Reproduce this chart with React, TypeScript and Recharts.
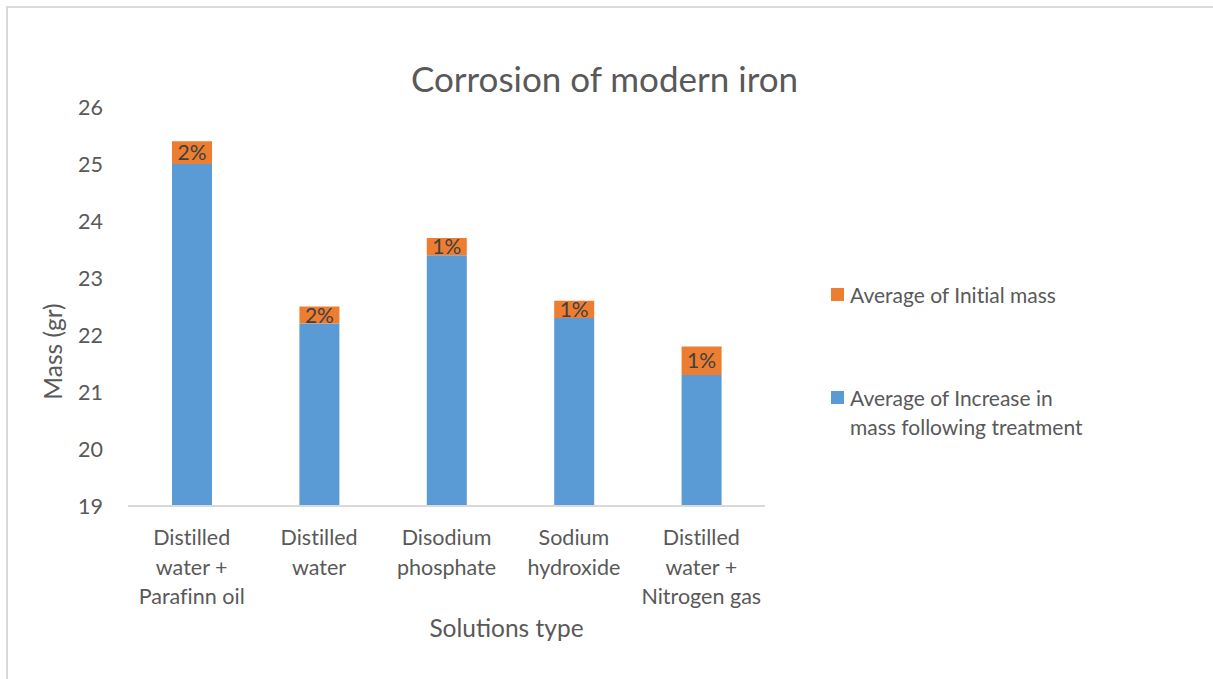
import { Bar, BarChart, LabelList, Legend, XAxis, YAxis } from "recharts";

const categories = [
  "Distilled\nwater +\nParafinn oil",
  "Distilled\nwater",
  "Disodium\nphosphate",
  "Sodium\nhydroxide",
  "Distilled\nwater +\nNitrogen gas",
];
const increaseMass = [25.0, 22.2, 23.4, 22.3, 21.3];
const initialMass = [0.4, 0.3, 0.3, 0.3, 0.5];
const percentLabels = ["2%", "2%", "1%", "1%", "1%"];
const yTicks = [19, 20, 21, 22, 23, 24, 25, 26];

const data = categories.map((name, i) => ({
  name,
  increase: increaseMass[i],
  initial: initialMass[i],
  pct: percentLabels[i],
}));

const FONT = "Lato, 'Open Sans', sans-serif";
const GRAY = "#595959";
const noLig = { fontVariantLigatures: "none" as const };

const CategoryTick = (props: any) => {
  const { x, y, payload } = props;
  const lines = String(payload.value).split("\n");
  return (
    <text x={x} y={y} textAnchor="middle" fill={GRAY} fontSize={21.5} fontFamily={FONT} style={noLig}>
      {lines.map((line, i) => (
        <tspan key={i} x={x} y={y + 37 + i * 29.5}>
          {line}
        </tspan>
      ))}
    </text>
  );
};

const LegendBox = (props: any) => {
  const items = [...(props.payload || [])].reverse();
  return (
    <div style={{ fontFamily: FONT, fontSize: 21, color: GRAY, ...noLig }}>
      {items.map((item: any, i: number) => (
        <div key={i} style={{ display: "flex", alignItems: "flex-start", marginBottom: i === 0 ? 74 : 0 }}>
          <div style={{ width: 13, height: 13, background: item.color, marginTop: 8, marginRight: 6, flexShrink: 0 }} />
          <div style={{ width: 250, lineHeight: "29px" }}>{item.value}</div>
        </div>
      ))}
    </div>
  );
};

const App = () => {
  return (
    <div style={{ position: "absolute", left: 0, top: 0, width: 1213, height: 679, background: "#fff" }}>
      <div
        style={{
          position: "absolute",
          left: 6,
          top: 6,
          width: 1213,
          height: 679,
          borderLeft: "2px solid #d9d9d9",
          borderTop: "2px solid #d9d9d9",
        }}
      />
      <div
        style={{
          position: "absolute",
          left: 0,
          width: 1213,
          top: 57,
          textAlign: "center",
          fontFamily: FONT,
          fontSize: 35,
          color: GRAY,
        }}
      >
        <span style={{ position: "relative", left: -2 }}>Corrosion of modern iron</span>
      </div>
      <div style={{ position: "absolute", left: 0, top: 0 }}>
        <BarChart
          width={1213}
          height={679}
          data={data}
          margin={{ top: 107, right: 448, bottom: 0, left: 0 }}
          barSize={40}
        >
          <XAxis
            dataKey="name"
            interval={0}
            height={173}
            tickLine={false}
            tickSize={0}
            axisLine={{ stroke: "#d9d9d9", strokeWidth: 2 }}
            tick={<CategoryTick />}
            label={{
              content: (p: any) => {
                const vb = p.viewBox;
                return (
                  <text x={vb.x + vb.width / 2 + 60} y={vb.y + 131} textAnchor="middle" fill={GRAY} fontSize={24.5} fontFamily={FONT}>
                    Solutions type
                  </text>
                );
              },
            }}
          />
          <YAxis
            width={128}
            domain={[19, 26]}
            ticks={yTicks}
            allowDataOverflow
            axisLine={false}
            tickLine={false}
            tickSize={0}
            tickMargin={25}
            tick={{ fill: GRAY, fontSize: 21.5, fontFamily: FONT }}
            label={{
              content: (p: any) => {
                const vb = p.viewBox;
                const cx = vb.x + 52;
                const cy = vb.y + vb.height / 2 + 45;
                return (
                  <text x={cx} y={cy} transform={`rotate(-90 ${cx} ${cy})`} textAnchor="middle" dominantBaseline="central" fill={GRAY} fontSize={24.5} fontFamily={FONT}>
                    Mass (gr)
                  </text>
                );
              },
            }}
          />
          <Legend
            layout="vertical"
            align="center"
            verticalAlign="middle"
            content={<LegendBox />}
            wrapperStyle={{ left: 831, top: 280, width: 300, height: "auto" }}
          />
          <Bar dataKey="increase" name="Average of Increase in mass following treatment" stackId="a" fill="#5b9bd5" isAnimationActive={false} />
          <Bar dataKey="initial" name="Average of Initial mass" stackId="a" fill="#ed7d31" isAnimationActive={false}>
            <LabelList dataKey="pct" position="center" fill="#404040" fontSize={21} fontFamily={FONT} />
          </Bar>
        </BarChart>
      </div>
    </div>
  );
};

export default App;
